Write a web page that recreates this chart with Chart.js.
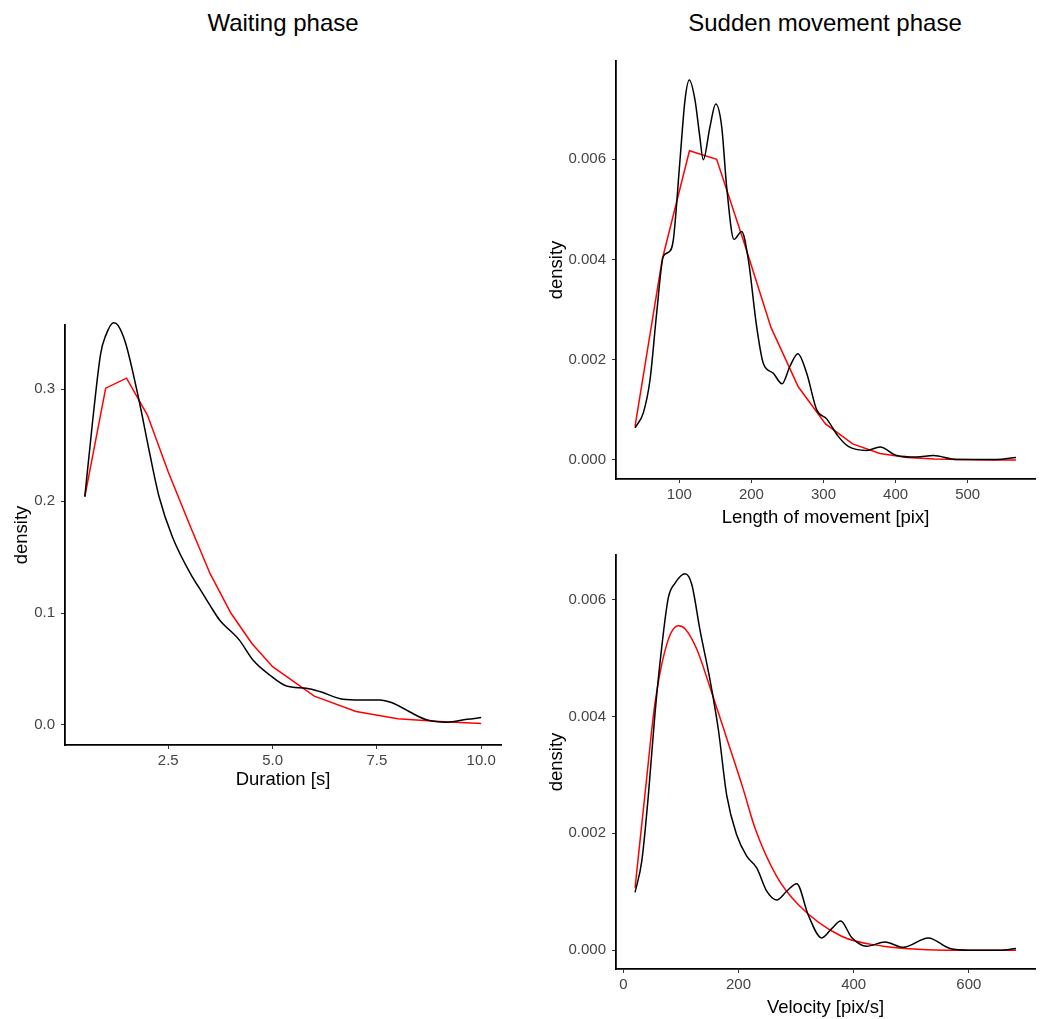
<!DOCTYPE html>
<html>
<head>
<meta charset="utf-8">
<script src="https://cdn.jsdelivr.net/npm/chart.js@4/dist/chart.umd.min.js"></script>
<style>
    body {
        margin: 0;
        background: #fff;
        width: 1041px;
        height: 1019px;
        position: relative;
        overflow: hidden;
        font-family: "Liberation Sans", Arial, sans-serif;
    }
    .panelTitle {
        position: absolute;
        top: 9px;
        font-size: 24px;
        line-height: 27px;
        color: #000;
        transform: translateX(-50%);
        white-space: nowrap;
    }
    canvas {
        position: absolute;
    }
</style>
</head>
<body>
<div class="panelTitle" style="left:283px">Waiting phase</div>
<div class="panelTitle" style="left:825px">Sudden movement phase</div>
<canvas id="waitCanvas" width="520" height="520" style="left:0;top:290px"></canvas>
<canvas id="lengthCanvas" width="511" height="500" style="left:530px;top:40px"></canvas>
<canvas id="velocityCanvas" width="511" height="479" style="left:530px;top:540px"></canvas>
<script>
////////////////////////////////////////////////////////////////////////
// Data

// Waiting phase: duration [s]
const waitX = [0.5, 0.68, 0.88, 1.0, 1.19, 1.3, 1.48, 1.8, 2.04, 2.28, 2.6, 3.08, 3.25, 3.57, 3.73, 4.2, 4.53, 4.93, 5.33, 5.81, 6.13, 6.69, 7.1, 7.57, 7.85, 8.05, 8.69, 9.18, 9.66, 10.0]
const waitDensity = [0.204, 0.269, 0.332, 0.348, 0.3595, 0.357, 0.341, 0.29, 0.2455, 0.204, 0.168, 0.132, 0.122, 0.1027, 0.0938, 0.076, 0.058, 0.0446, 0.0348, 0.0327, 0.0298, 0.0229, 0.0222, 0.0223, 0.02, 0.0164, 0.0045, 0.0024, 0.005, 0.0065]
const waitFitX = [0.5, 1.0, 1.5, 2.0, 2.5, 3.0, 3.5, 4.0, 4.5, 5.0, 6.0, 7.0, 8.0, 9.0, 10.0]
const waitFit = [0.204, 0.301, 0.31, 0.277, 0.226, 0.18, 0.1354, 0.1, 0.073, 0.052, 0.0257, 0.012, 0.0054, 0.003, 0.0012]
const waitXTicks = [2.5, 5.0, 7.5, 10.0]
const waitYTicks = [0.0, 0.1, 0.2, 0.3]

// Sudden movement phase: length of movement [pix]
const lengthX = [38.6, 50.1, 59.4, 68.6, 77.8, 84.7, 91.7, 101, 107.9, 113.9, 121.8, 128, 133.3, 142.6, 150.5, 158.8, 165.7, 175.9, 186.5, 195.7, 207.3, 216.5, 230.4, 242.5, 253.5, 264.5, 276.7, 290.6, 304.4, 320.5, 334.4, 359.9, 378.4, 401.5, 429.3, 452.3, 484.7, 540, 567]
const lengthDensity = [0.00064, 0.00094, 0.0016, 0.00293, 0.00406, 0.00414, 0.00439, 0.00599, 0.00718, 0.00758, 0.00718, 0.0065, 0.00599, 0.00665, 0.0071, 0.00665, 0.00545, 0.0044, 0.00456, 0.004, 0.00266, 0.00193, 0.00173, 0.00152, 0.00187, 0.00212, 0.00173, 0.001, 0.00082, 0.00047, 0.00027, 0.00019, 0.00026, 0.00009, 0.00006, 0.00009, 0.00001, 0.00001, 0.00005]
const lengthFitX = [38.6, 76.3, 114.1, 151.8, 189.6, 227.3, 265.0, 302.8, 340.5, 378.3, 416.0, 453.8, 491.5, 529.3, 567]
const lengthFit = [0.00067, 0.004, 0.00617, 0.006, 0.00435, 0.00264, 0.00146, 0.00072, 0.00032, 0.00013, 0.00005, 0.00002, 0.00001, 0.0, 0.0]
const lengthXTicks = [100, 200, 300, 400, 500]
const lengthYTicks = [0.000, 0.002, 0.004, 0.006]

// Sudden movement phase: velocity [pix/s]
const velocityX = [20.3, 31.9, 43.4, 55, 66.7, 78.1, 89.8, 107.1, 118.7, 133.2, 150.5, 164.9, 179.5, 196.9, 214.2, 231.6, 249, 266.3, 283.7, 301, 321.2, 344.4, 361.8, 377.4, 396.5, 422.6, 454.3, 486.1, 529.5, 567.2, 602, 654, 681.8]
const velocityDensity = [0.00099, 0.00152, 0.00265, 0.00406, 0.00519, 0.00603, 0.00628, 0.00644, 0.00626, 0.00547, 0.00462, 0.00378, 0.00265, 0.00197, 0.00161, 0.00141, 0.00101, 0.00086, 0.00101, 0.00114, 0.0006, 0.00021, 0.00037, 0.0005, 0.00022, 0.00007, 0.00014, 0.00005, 0.00021, 0.00003, 0.0, 0.0, 0.00003]
const velocityFitX = [20.3, 40, 55, 76.6, 95.5, 107, 127, 150, 180, 208, 229, 266, 304, 379, 451, 527, 605, 682]
const velocityFit = [0.00107, 0.0029, 0.00423, 0.00527, 0.00555, 0.0055, 0.00516, 0.00451, 0.00361, 0.00276, 0.00208, 0.00127, 0.00078, 0.00024, 0.00007, 0.00001, 0.0, 0.0]
const velocityXTicks = [0, 200, 400, 600]
const velocityYTicks = [0.000, 0.002, 0.004, 0.006]

////////////////////////////////////////////////////////////////////////
// Shared style
const fontFamily = '"Liberation Sans", Arial, sans-serif'
const tickColor = '#444'

/**
 * Zips two arrays into {x, y} points.
 */
function toPoints(xs, ys) {
    return xs.map((x, i) => ({ x: x, y: ys[i] }))
}

/**
 * Builds an axis configuration with fixed ticks and fixed thickness.
 */
function axisConfig(opts) {
    return {
        type: 'linear',
        min: opts.min,
        max: opts.max,
        afterBuildTicks: scale => { scale.ticks = opts.ticks.map(v => ({ value: v })) },
        afterFit: scale => {
            if (opts.horizontal) scale.height = opts.size
            else scale.width = opts.size
        },
        grid: {
            display: true,
            drawOnChartArea: false,
            drawTicks: true,
            tickLength: 4,
            color: '#333',
            lineWidth: 1
        },
        border: { display: true, color: '#000', width: 1.8 },
        ticks: {
            color: tickColor,
            font: { family: fontFamily, size: 15 },
            padding: opts.horizontal ? 3 : 6,
            maxRotation: 0,
            autoSkip: false,
            callback: v => v.toFixed(opts.digits)
        },
        title: {
            display: true,
            text: opts.title,
            color: '#000',
            font: { family: fontFamily, size: 18.5 },
            padding: opts.titlePadding
        }
    }
}

/**
 * Creates one density panel: black density curve and red fitted line.
 */
function densityChart(id, cfg) {
    return new Chart(document.getElementById(id), {
        type: 'line',
        data: {
            datasets: [
                {
                    label: 'density',
                    data: toPoints(cfg.x, cfg.density),
                    borderColor: '#000',
                    borderWidth: 1.5,
                    pointRadius: 0,
                    fill: false,
                    cubicInterpolationMode: 'monotone'
                },
                {
                    label: 'fit',
                    data: toPoints(cfg.fitX, cfg.fit),
                    borderColor: '#ff0000',
                    borderWidth: 1.5,
                    pointRadius: 0,
                    fill: false,
                    cubicInterpolationMode: cfg.smoothFit ? 'monotone' : 'default',
                    tension: 0
                }
            ]
        },
        options: {
            responsive: false,
            animation: false,
            clip: false,
            layout: { padding: cfg.padding },
            plugins: {
                legend: { display: false },
                tooltip: { enabled: false }
            },
            scales: {
                x: axisConfig({
                    horizontal: true, min: cfg.xRange[0], max: cfg.xRange[1], ticks: cfg.xTicks,
                    size: cfg.xSize, digits: cfg.xDigits, title: cfg.xTitle,
                    titlePadding: { top: 0, bottom: cfg.xTitlePad }
                }),
                y: axisConfig({
                    horizontal: false, min: cfg.yRange[0], max: cfg.yRange[1], ticks: cfg.yTicks,
                    size: cfg.ySize, digits: cfg.yDigits, title: 'density',
                    titlePadding: { top: cfg.yTitlePad, bottom: 0 }
                })
            }
        }
    })
}

////////////////////////////////////////////////////////////////////////
// Panels
densityChart('waitCanvas', {
    x: waitX, density: waitDensity, fitX: waitFitX, fit: waitFit, smoothFit: false,
    xRange: [0.025, 10.475], yRange: [-0.018, 0.3575],
    xTicks: waitXTicks, yTicks: waitYTicks, xDigits: 1, yDigits: 1,
    xTitle: 'Duration [s]', xSize: 65, ySize: 65, xTitlePad: 19, yTitlePad: 11,
    padding: { top: 35, right: 19, left: 0, bottom: 0 }
})

densityChart('lengthCanvas', {
    x: lengthX, density: lengthDensity, fitX: lengthFitX, fit: lengthFit, smoothFit: false,
    xRange: [12.2, 593.4], yRange: [-0.00038, 0.00796],
    xTicks: lengthXTicks, yTicks: lengthYTicks, xDigits: 0, yDigits: 3,
    xTitle: 'Length of movement [pix]', xSize: 61, ySize: 86, xTitlePad: 11, yTitlePad: 16,
    padding: { top: 21, right: 6, left: 0, bottom: 0 }
})

densityChart('velocityCanvas', {
    x: velocityX, density: velocityDensity, fitX: velocityFitX, fit: velocityFit, smoothFit: true,
    xRange: [-12.8, 714.9], yRange: [-0.00032, 0.00676],
    xTicks: velocityXTicks, yTicks: velocityYTicks, xDigits: 0, yDigits: 3,
    xTitle: 'Velocity [pix/s]', xSize: 50, ySize: 86, xTitlePad: 0, yTitlePad: 16,
    padding: { top: 10, right: 6, left: 0, bottom: 0 }
})
</script>
</body>
</html>
